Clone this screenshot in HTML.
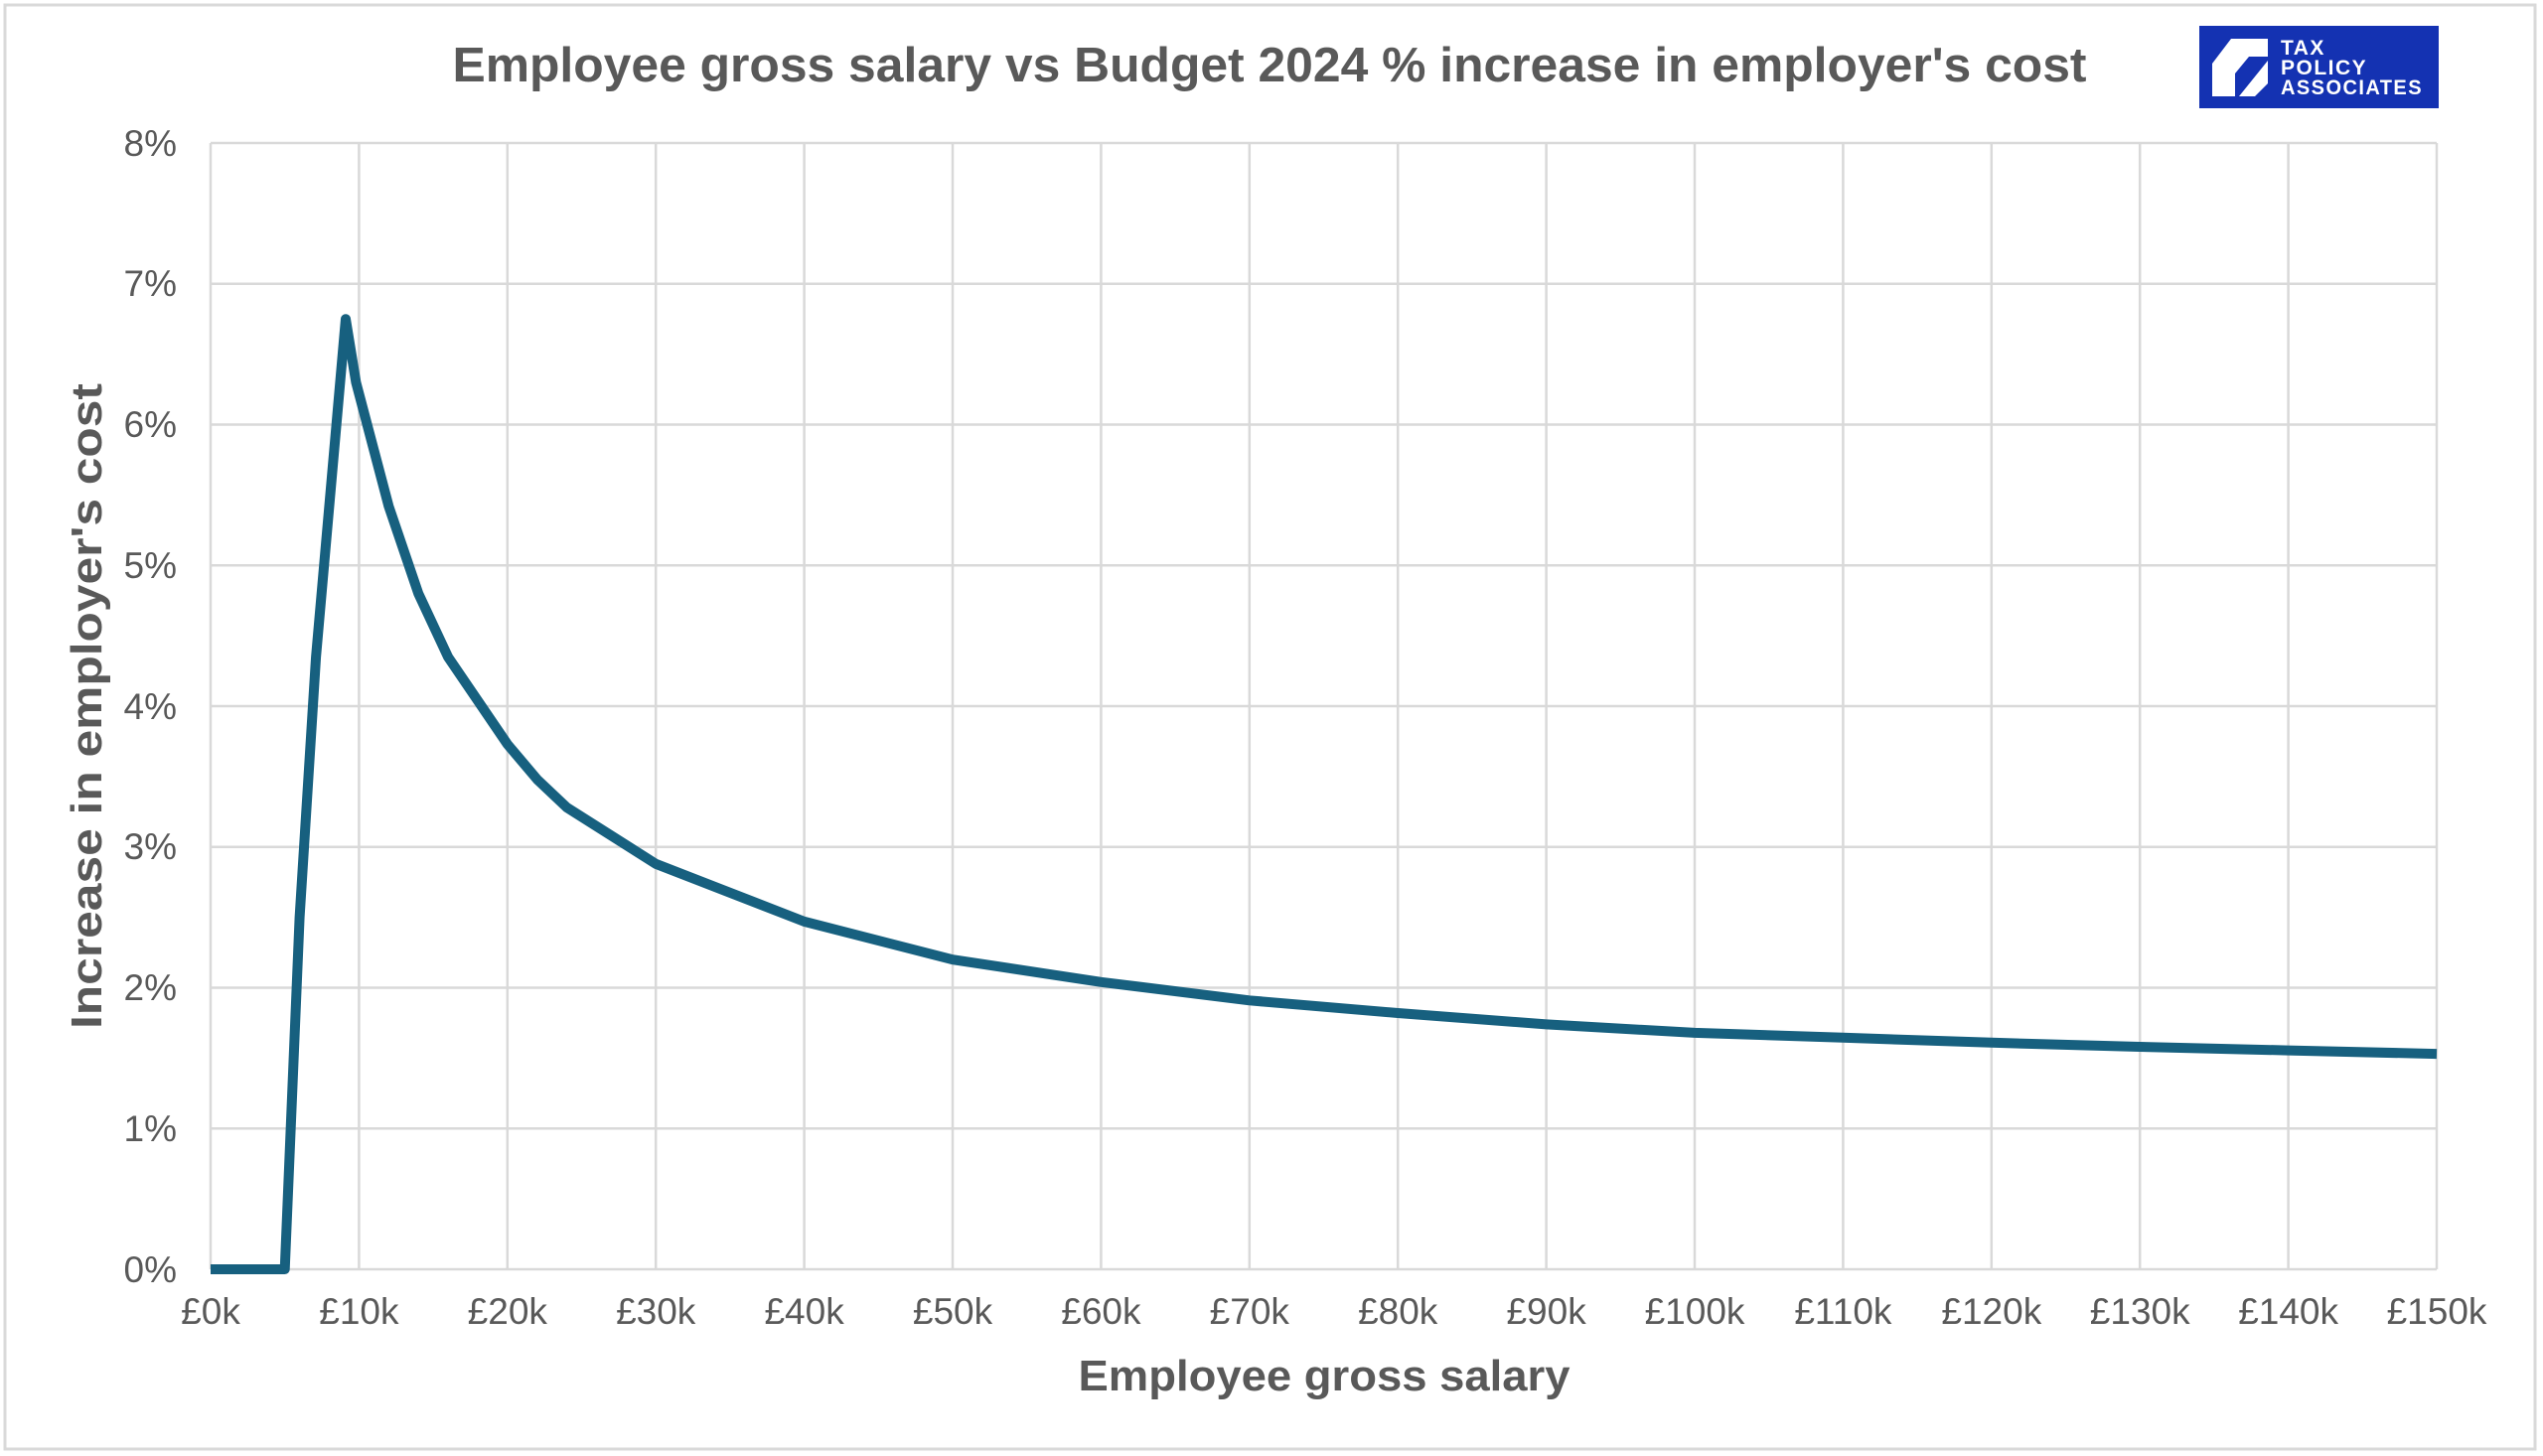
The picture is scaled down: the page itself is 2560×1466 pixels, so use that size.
<!DOCTYPE html>
<html><head><meta charset="utf-8"><style>
html,body{margin:0;padding:0;background:#fff;}
svg{display:block;}
text{font-family:"Liberation Sans",Arial,sans-serif;}
</style></head><body>
<svg width="2560" height="1466" viewBox="0 0 2560 1466" xmlns="http://www.w3.org/2000/svg">
<rect x="0" y="0" width="2560" height="1466" fill="#fff"/>
<rect x="5" y="5" width="2547" height="1454" fill="none" stroke="#d9d9d9" stroke-width="3"/>
<text x="1278" y="82" text-anchor="middle" font-size="49" font-weight="bold" fill="#595959" textLength="1645" lengthAdjust="spacingAndGlyphs">Employee gross salary vs Budget 2024 % increase in employer's cost</text>
<!-- logo -->
<rect x="2214" y="26" width="241" height="83" fill="#1432b2"/>
<polygon points="2246,39 2283,39 2283,57 2264,57 2250,74 2250,97 2227,97 2227,64" fill="#fff"/>
<polygon points="2283,61 2283,84 2270,97 2254,97" fill="#fff"/>
<g font-weight="bold" font-size="21" fill="#fff" letter-spacing="1.5">
<text x="2296" y="55">TAX</text>
<text x="2296" y="75">POLICY</text>
<text x="2296" y="95" textLength="143" lengthAdjust="spacingAndGlyphs">ASSOCIATES</text>
</g>
<!-- grid -->
<g stroke="#d9d9d9" stroke-width="2.5">
<line x1="212" y1="144" x2="2453" y2="144"/>
<line x1="212" y1="285.75" x2="2453" y2="285.75"/>
<line x1="212" y1="427.5" x2="2453" y2="427.5"/>
<line x1="212" y1="569.25" x2="2453" y2="569.25"/>
<line x1="212" y1="711" x2="2453" y2="711"/>
<line x1="212" y1="852.75" x2="2453" y2="852.75"/>
<line x1="212" y1="994.5" x2="2453" y2="994.5"/>
<line x1="212" y1="1136.25" x2="2453" y2="1136.25"/>
<line x1="212" y1="1278" x2="2453" y2="1278"/>
<line x1="212" y1="144" x2="212" y2="1278"/>
<line x1="361.4" y1="144" x2="361.4" y2="1278"/>
<line x1="510.8" y1="144" x2="510.8" y2="1278"/>
<line x1="660.2" y1="144" x2="660.2" y2="1278"/>
<line x1="809.6" y1="144" x2="809.6" y2="1278"/>
<line x1="959" y1="144" x2="959" y2="1278"/>
<line x1="1108.4" y1="144" x2="1108.4" y2="1278"/>
<line x1="1257.8" y1="144" x2="1257.8" y2="1278"/>
<line x1="1407.2" y1="144" x2="1407.2" y2="1278"/>
<line x1="1556.6" y1="144" x2="1556.6" y2="1278"/>
<line x1="1706" y1="144" x2="1706" y2="1278"/>
<line x1="1855.4" y1="144" x2="1855.4" y2="1278"/>
<line x1="2004.8" y1="144" x2="2004.8" y2="1278"/>
<line x1="2154.2" y1="144" x2="2154.2" y2="1278"/>
<line x1="2303.6" y1="144" x2="2303.6" y2="1278"/>
<line x1="2453" y1="144" x2="2453" y2="1278"/>
</g>
<!-- y labels -->
<g font-size="37" fill="#595959" text-anchor="end">
<text x="178" y="157">8%</text>
<text x="178" y="298">7%</text>
<text x="178" y="440">6%</text>
<text x="178" y="582">5%</text>
<text x="178" y="724">4%</text>
<text x="178" y="865">3%</text>
<text x="178" y="1007">2%</text>
<text x="178" y="1149">1%</text>
<text x="178" y="1291">0%</text>
</g>
<!-- x labels -->
<g font-size="37" fill="#595959" text-anchor="middle">
<text x="212" y="1333">£0k</text>
<text x="361.4" y="1333">£10k</text>
<text x="510.8" y="1333">£20k</text>
<text x="660.2" y="1333">£30k</text>
<text x="809.6" y="1333">£40k</text>
<text x="959" y="1333">£50k</text>
<text x="1108.4" y="1333">£60k</text>
<text x="1257.8" y="1333">£70k</text>
<text x="1407.2" y="1333">£80k</text>
<text x="1556.6" y="1333">£90k</text>
<text x="1706" y="1333">£100k</text>
<text x="1855.4" y="1333">£110k</text>
<text x="2004.8" y="1333">£120k</text>
<text x="2154.2" y="1333">£130k</text>
<text x="2303.6" y="1333">£140k</text>
<text x="2453" y="1333">£150k</text>
</g>
<text x="1333" y="1400" text-anchor="middle" font-size="44" font-weight="bold" fill="#595959" textLength="495" lengthAdjust="spacingAndGlyphs">Employee gross salary</text>
<text transform="translate(102,711) rotate(-90)" text-anchor="middle" font-size="44" font-weight="bold" fill="#595959" textLength="650" lengthAdjust="spacingAndGlyphs">Increase in employer's cost</text>
<!-- series -->
<polyline fill="none" stroke="#17607f" stroke-width="10" stroke-linejoin="round" stroke-linecap="butt"
points="212,1278 286.7,1278 301.6,923.6 318.1,661.4 348,321.2 358.4,385 391.3,509.7 421.2,597.6 451,661.4 510.8,749.3 540.7,784.7 570.6,813 660.2,869.8 809.6,927.9 959,966.2 1108.4,988.8 1257.8,1007.3 1407.2,1020 1556.6,1031.4 1706,1039.9 1855.4,1044.8 2004.8,1049.8 2154.2,1054 2303.6,1057.6 2453,1061.1"/>
</svg>
</body></html>
